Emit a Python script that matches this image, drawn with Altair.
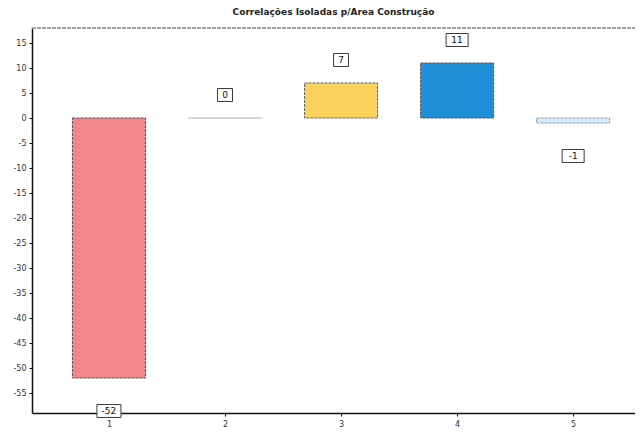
import altair as alt
import pandas as pd

# ---- data ----
categories = ["1", "2", "3", "4", "5"]
positions = [1, 2, 3, 4, 5]
values = [-52, 0, 7, 11, -1]
fill_colors = ["#f4868d", "#e4e8ee", "#fcd25c", "#1f8fd8", "#d8ecf7"]
stroke_colors = ["#555555", "#b8bcc4", "#666666", "#555555", "#8aa0b0"]
y_ticks = [-55, -50, -45, -40, -35, -30, -25, -20, -15, -10, -5, 0, 5, 10, 15]
x_ticks = [1, 2, 3, 4, 5]
title_text = "Correlações Isoladas p/Área Construção"

df = pd.DataFrame({"pos": positions, "cat": categories, "v": values})

W, H = 603, 385
FONT = "DejaVu Sans"

x_enc = alt.X(
    "pos:Q",
    scale=alt.Scale(domain=[0.38, 5.49], nice=False, zero=False),
    axis=alt.Axis(values=x_ticks, labelExpr="toString(datum.value)", title=None,
                  grid=False, labelPadding=4, labelOverlap=False),
)
y_enc = alt.Y(
    "v:Q",
    stack=None,
    scale=alt.Scale(domain=[-59, 18], nice=False, zero=False),
    axis=alt.Axis(values=y_ticks, labelExpr="toString(datum.value)", title=None,
                  grid=False, labelPadding=3, labelOverlap=False, labelSeparation=0),
)

base = alt.Chart(df).transform_calculate(
    lab="toString(datum.v)", n="length(toString(datum.v))"
)

bars = base.mark_bar(width=73, strokeWidth=1, strokeDash=[3, 1]).encode(
    x=x_enc,
    y=y_enc,
    color=alt.Color("cat:N", scale=alt.Scale(domain=categories, range=fill_colors), legend=None),
    stroke=alt.Stroke("cat:N", scale=alt.Scale(domain=categories, range=stroke_colors), legend=None),
)

frame_top = base.mark_rule(color="#9aa0aa", strokeWidth=1, strokeDash=[4, 1]).encode(
    x=alt.value(0), x2=alt.value(W), y=alt.value(0)
)

box_paths = [
    "M-0.625,-0.54H0.625V0.54H-0.625Z",
    "M-0.917,-0.54H0.917V0.54H-0.917Z",
    "M-1,-0.54H1V0.54H-1Z",
]

def boxes(cond, off):
    return (
        base.transform_filter(cond)
        .mark_point(filled=True, fill="white", stroke="#3a3a3a", strokeWidth=1,
                    opacity=1, size=576, yOffset=off)
        .encode(
            x=x_enc,
            y=y_enc,
            shape=alt.Shape("n:O", scale=alt.Scale(domain=[1, 2, 3], range=box_paths),
                            legend=None),
        )
    )

def texts(cond, off):
    return (
        base.transform_filter(cond)
        .mark_text(font=FONT, fontSize=9, color="#111111", baseline="middle", dy=off)
        .encode(x=x_enc, y=y_enc, text=alt.Text("lab:N"))
    )

pos_cond = "datum.v >= 0"
neg_cond = "datum.v < 0"

chart = (
    alt.layer(
        bars,
        frame_top,
        boxes(pos_cond, -23),
        boxes(neg_cond, 33),
        texts(pos_cond, -23),
        texts(neg_cond, 33),
    )
    .properties(
        width=W,
        height=H,
        title=alt.TitleParams(title_text, font=FONT, fontSize=9, fontWeight="bold",
                              color="#222222", anchor="middle", offset=11),
        autosize=alt.AutoSizeParams(type="none"),
        padding={"left": 24, "top": 20, "right": 0, "bottom": 16},
    )
    .configure_view(stroke=None)
    .configure_axis(
        domainColor="#111111",
        domainWidth=1.5,
        tickColor="#111111",
        tickSize=3,
        labelFont=FONT,
        labelFontSize=8,
        labelColor="#333333",
        labelOverlap=False,
    )
)

chart.save("out.html", embed_options={"renderer": "svg", "actions": False})
